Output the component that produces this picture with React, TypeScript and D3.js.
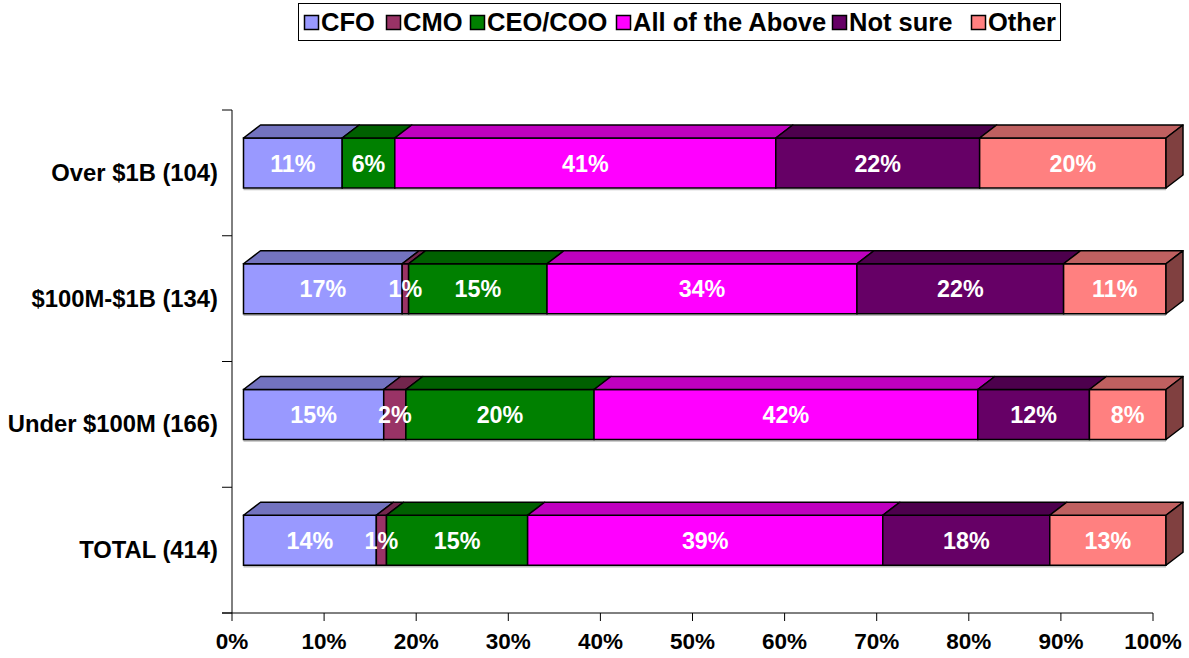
import React from "react";
import * as d3 from "d3";

const categories = ["Over $1B (104)", "$100M-$1B (134)", "Under $100M (166)", "TOTAL (414)"];
const seriesNames = ["CFO", "CMO", "CEO/COO", "All of the Above", "Not sure", "Other"];
const cfo = [10.7, 17.2, 15.2, 14.4];
const cmo = [0, 0.7, 2.4, 1.1];
const ceoCoo = [5.7, 15.0, 20.4, 15.3];
const allAbove = [41.3, 33.6, 41.6, 38.5];
const notSure = [22.1, 22.4, 12.1, 18.1];
const other = [20.2, 11.1, 8.3, 12.6];
const colors = ["#9999FF", "#993366", "#008000", "#FF00FF", "#660066", "#FF8080"];
const xTicks = [0, 10, 20, 30, 40, 50, 60, 70, 80, 90, 100];

const W = 1189, H = 658;
const FONT = "'Liberation Sans', Arial, sans-serif";

export default function App() {
  const series = [cfo, cmo, ceoCoo, allAbove, notSure, other];
  const axisX = d3.scaleLinear().domain([0, 100]).range([232, 1153]);
  const barX = d3.scaleLinear().domain([0, 100]).range([243.5, 1166]);
  const band = d3.scaleBand().domain(categories).range([110, 613]);
  const dx = 17, dy = 13;
  const frontOffset = 28, frontH = 50;

  const rows = categories.map((c, i) => {
    const vals = series.map(s => s[i]);
    const stack: { x0: number; x1: number; v: number; k: number }[] = [];
    let acc = 0;
    vals.forEach((v, k) => {
      stack.push({ x0: acc, x1: acc + v, v, k });
      acc += v;
    });
    return { c, stack };
  });

  const shade = (col: string, f: number) => {
    const c = d3.rgb(col);
    return d3.rgb(c.r * f, c.g * f, c.b * f).formatHex();
  };

  const legendItems = [
    { sx: 304, tx: 321 },
    { sx: 386, tx: 403 },
    { sx: 470, tx: 487 },
    { sx: 616, tx: 633 },
    { sx: 832, tx: 849 },
    { sx: 971, tx: 988 },
  ];

  return (
    <svg width={W} height={H} style={{ position: "absolute", left: 0, top: 0, background: "#fff" }} fontFamily={FONT}>
      {/* legend */}
      <rect x={298.5} y={3.5} width={762} height={37} fill="#fff" stroke="#000" strokeWidth={1} />
      {seriesNames.map((n, k) => (
        <g key={n}>
          <rect x={legendItems[k].sx + 0.5} y={15.5} width={14} height={14} fill={colors[k]} stroke="#000" strokeWidth={1.5} />
          <text x={legendItems[k].tx} y={31} fontSize={25.5} fontWeight="bold" fill="#000">{n}</text>
        </g>
      ))}

      {/* axes */}
      <line x1={232} y1={110} x2={232} y2={613} stroke="#000" strokeWidth={1} />
      {d3.range(categories.length + 1).map(i => {
        const y = 110 + i * band.step();
        return <line key={i} x1={222} x2={232} y1={y} y2={y} stroke="#000" strokeWidth={1} />;
      })}
      <line x1={222} y1={613} x2={axisX(100)} y2={613} stroke="#000" strokeWidth={1} />
      {xTicks.map(t => (
        <g key={t}>
          <line x1={axisX(t)} x2={axisX(t)} y1={613} y2={621} stroke="#000" strokeWidth={1} />
          <text x={axisX(t)} y={649} textAnchor="middle" fontSize={22.5} fontWeight="bold" fill="#000">{t}%</text>
        </g>
      ))}

      {/* category labels */}
      {categories.map(c => (
        <text key={c} x={218} y={(band(c) as number) + band.bandwidth() / 2 + 8} textAnchor="end" fontSize={23.8} fontWeight="bold" fill="#000">{c}</text>
      ))}

      {/* bars */}
      {rows.map(r => {
        const yTop = (band(r.c) as number) + frontOffset;
        const yBot = yTop + frontH;
        const last = r.stack[r.stack.length - 1];
        return (
          <g key={r.c}>
            <line x1={barX(0)} x2={barX(100)} y1={yBot + 1.5} y2={yBot + 1.5} stroke="#bbb" strokeWidth={1.5} />
            {r.stack.filter(s => s.v > 0).map(s => {
              const a = barX(s.x0), b = barX(s.x1);
              return (
                <g key={s.k}>
                  <rect x={a} y={yTop} width={b - a} height={frontH} fill={colors[s.k]} stroke="#000" strokeWidth={1.5} />
                  <polygon points={`${a},${yTop} ${b},${yTop} ${b + dx},${yTop - dy} ${a + dx},${yTop - dy}`} fill={shade(colors[s.k], 0.75)} stroke="#000" strokeWidth={1.5} strokeLinejoin="round" />
                </g>
              );
            })}
            <polygon points={`${barX(last.x1)},${yTop} ${barX(last.x1) + dx},${yTop - dy} ${barX(last.x1) + dx},${yBot - dy} ${barX(last.x1)},${yBot}`} fill={shade(colors[last.k], 0.5)} stroke="#000" strokeWidth={1.5} strokeLinejoin="round" />
            {r.stack.filter(s => s.v > 0).map(s => (
              <text key={"t" + s.k} x={(barX(s.x0) + barX(s.x1)) / 2} y={yTop + frontH / 2 + 8.5} textAnchor="middle" fontSize={23.3} fontWeight="bold" fill="#fff">{Math.round(s.v)}%</text>
            ))}
          </g>
        );
      })}
    </svg>
  );
}
